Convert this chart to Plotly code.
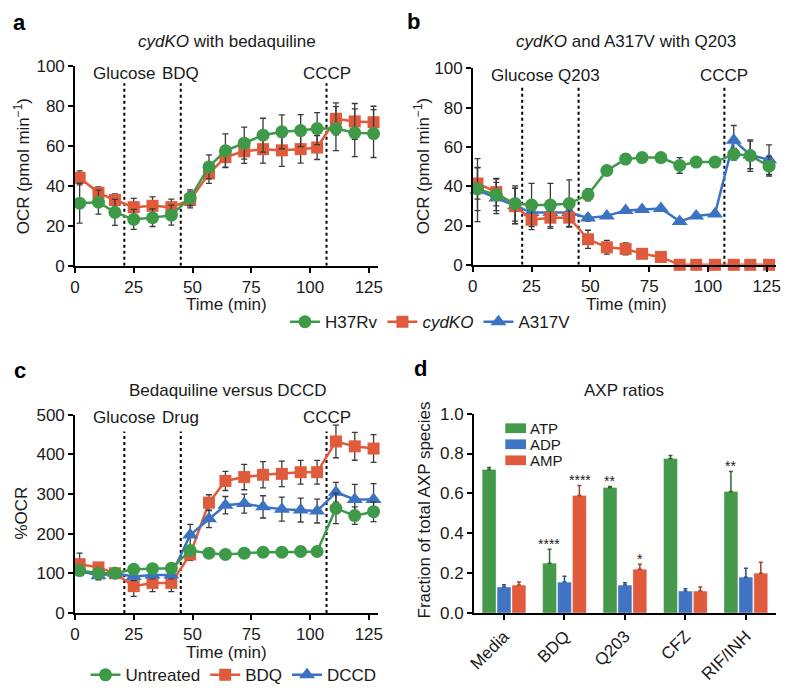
import plotly.graph_objects as go

# ---------------- data ----------------
# panel a: cydKO with bedaquiline
time_a = [2, 10, 17, 25, 33, 41, 49, 57, 64, 72, 80, 88, 96, 103, 111, 119, 127]
h37rv_a = [31.4, 31.9, 26.8, 23.3, 24.1, 25.4, 34.1, 49.6, 57.7, 61.5, 65.5, 67.2, 67.8, 68.8, 68.8, 66.7, 66.3]
h37rv_a_err = [10, 6, 6.5, 5, 4.4, 5, 4, 6, 8.5, 8, 8.5, 8.5, 8, 8, 11, 12, 12]
cydko_a = [44.1, 36.6, 33.0, 29.4, 30.1, 29.4, 33.0, 46.3, 54.5, 57.4, 58.5, 57.9, 58.5, 59.3, 73.7, 72.4, 72.0]
cydko_a_err = [3.5, 3, 3, 4.4, 4.5, 4, 4, 5, 5, 6, 7, 8, 7, 6, 8, 9, 8]
events_a = [21, 45, 107]
event_labels_a = ["Glucose", "BDQ", "CCCP"]

# panel b: cydKO and A317V with Q203
time_b = [2, 10, 18, 25, 33, 41, 49, 57, 65, 72, 80, 88, 95, 103, 111, 118, 126]
h37rv_b = [38.6, 35.6, 31.2, 30.4, 30.4, 31.2, 35.6, 48.0, 53.8, 54.6, 54.6, 50.6, 52.3, 52.3, 56.3, 55.6, 50.2]
h37rv_b_err = [11, 8, 9, 11, 11, 12, 3, 2, 2.5, 2.5, 2.5, 4, 1.5, 1.5, 3, 8, 5]
cydko_b = [41.4, 37.0, 29.9, 22.9, 24.0, 24.0, 13.0, 8.9, 8.1, 5.6, 4.0, 0, 0, 0, 0, 0, 0]
cydko_b_err = [8, 7, 9, 5, 5.5, 4.5, 4.6, 3.5, 3, 1, 1, 1.5, 0.5, 0.5, 0.5, 0.5, 0.5]
a317v_b = [38.0, 34.0, 30.0, 26.6, 26.6, 26.6, 23.8, 24.9, 27.6, 28.2, 28.7, 22.1, 24.9, 25.9, 63.4, 55.9, 53.5]
a317v_b_err = [16, 8, 9, 2, 2, 2, 1.5, 1, 1, 1, 1, 1, 1, 1, 7.5, 7, 7.5]
events_b = [21, 45, 107]
event_labels_b = ["Glucose", "Q203", "CCCP"]

# panel c: Bedaquiline versus DCCD
time_c = [2, 10, 17, 25, 33, 41, 49, 57, 64, 72, 80, 88, 96, 103, 111, 119, 127]
untreated_c = [106.9, 100.3, 100.3, 110.0, 111.7, 112.6, 157.4, 150.9, 147.6, 150.9, 153.3, 153.3, 155.0, 155.0, 263.5, 245.5, 255.3]
untreated_c_err = [8, 5, 5, 5, 5, 5, 5, 5, 5, 5, 5, 5, 5, 5, 38, 22, 25]
bdq_c = [123.0, 115.0, 100.3, 67.7, 75.9, 75.9, 147.6, 278.0, 332.8, 342.6, 348.3, 350.7, 354.8, 354.8, 432.3, 420.0, 414.4]
bdq_c_err = [28, 10, 5, 26, 22, 22, 15, 20, 24, 32, 33, 32, 30, 30, 41, 35, 35]
dccd_c = [107.0, 93.8, 100.0, 92.0, 96.0, 96.0, 196.6, 237.4, 271.6, 275.7, 267.5, 261.8, 259.4, 256.9, 304.2, 286.3, 286.3]
dccd_c_err = [10, 10, 8, 10, 10, 10, 27, 22, 22, 24, 28, 30, 30, 30, 25, 38, 40]
events_c = [21, 45, 107]
event_labels_c = ["Glucose", "Drug", "CCCP"]

# panel d: AXP ratios
conditions = ["Media", "BDQ", "Q203", "CFZ", "RIF/INH"]
species = ["ATP", "ADP", "AMP"]
atp = [0.72, 0.25, 0.63, 0.775, 0.61]
atp_err = [0.01, 0.07, 0.005, 0.015, 0.10]
adp = [0.13, 0.155, 0.14, 0.11, 0.18]
adp_err = [0.012, 0.03, 0.012, 0.012, 0.045]
amp = [0.14, 0.59, 0.22, 0.11, 0.20]
amp_err = [0.015, 0.05, 0.025, 0.02, 0.055]
atp_stars = ["", "****", "**", "", "**"]
amp_stars = ["", "****", "*", "", ""]

# ---------------- style ----------------
GREEN = "#3e9a48"
RED = "#e05a3c"
BLUE = "#3b72c2"
BAR_COLORS = ["#45994b", "#4175c4", "#e05a3e"]
BAR_ERR_COLORS = ["#2d6a33", "#2b528c", "#a3402b"]
FONT = "Liberation Sans, Arial, Helvetica, sans-serif"
W, H = 788, 695

fig = go.Figure()


def line_trace(x, y, err, color, symbol, size, name, xa, ya, legend, show, rank):
    return go.Scatter(
        x=x, y=y, mode="lines+markers", name=name,
        line=dict(color=color, width=2.5),
        marker=dict(color=color, symbol=symbol, size=size, line=dict(width=0)),
        error_y=dict(type="data", array=err, visible=True, color="#3a3a3a",
                     thickness=1.3, width=3),
        xaxis=xa, yaxis=ya, legend=legend, showlegend=show, legendrank=rank,
        cliponaxis=False,
    )


# panel a
fig.add_trace(line_trace(time_a, cydko_a, cydko_a_err, RED, "square", 12, "cydKO", "x", "y", "legend", False, 2))
fig.add_trace(line_trace(time_a, h37rv_a, h37rv_a_err, GREEN, "circle", 13, "H37Rv", "x", "y", "legend", False, 1))
# panel b
fig.add_trace(line_trace(time_b, a317v_b, a317v_b_err, BLUE, "triangle-up", 14, "A317V", "x2", "y2", "legend", True, 3))
fig.add_trace(line_trace(time_b, cydko_b, cydko_b_err, RED, "square", 12, "<i>cydKO</i>", "x2", "y2", "legend", True, 2))
fig.add_trace(line_trace(time_b, h37rv_b, h37rv_b_err, GREEN, "circle", 13, "H37Rv", "x2", "y2", "legend", True, 1))
# panel c
fig.add_trace(line_trace(time_c, bdq_c, bdq_c_err, RED, "square", 12, "BDQ", "x3", "y3", "legend2", True, 2))
fig.add_trace(line_trace(time_c, dccd_c, dccd_c_err, BLUE, "triangle-up", 14, "DCCD", "x3", "y3", "legend2", True, 3))
fig.add_trace(line_trace(time_c, untreated_c, untreated_c_err, GREEN, "circle", 13, "Untreated", "x3", "y3", "legend2", True, 1))

# panel d bars
for name, vals, errs, col, ecol in zip(species, [atp, adp, amp], [atp_err, adp_err, amp_err],
                                       BAR_COLORS, BAR_ERR_COLORS):
    fig.add_trace(go.Bar(
        x=conditions, y=vals, name=name,
        marker=dict(color=col, line=dict(width=0.6, color="rgba(255,255,255,0.6)")),
        error_y=dict(type="data", array=errs, arrayminus=[0] * len(errs), symmetric=False,
                     color=ecol, thickness=1.5, width=2),
        xaxis="x4", yaxis="y4", showlegend=False,
    ))


def px_x(p):
    return p / W


def px_y(p):
    return 1 - p / H


axis_common = dict(showline=True, linecolor="black", linewidth=1.5, ticks="outside",
                   ticklen=5, tickwidth=1.5, tickcolor="black", showgrid=False,
                   zeroline=False, tickfont=dict(size=17, color="#1a1a1a"), fixedrange=True)

time_ticks = [0, 25, 50, 75, 100, 125]

fig.update_layout(
    width=W, height=H, margin=dict(l=0, r=0, t=0, b=0),
    paper_bgcolor="white", plot_bgcolor="white",
    font=dict(family=FONT, size=17, color="#1a1a1a"),
    barmode="group", bargap=0.26, bargroupgap=0.07,
    xaxis=dict(domain=[px_x(69), px_x(377)], range=[0, 129], tickvals=time_ticks, anchor="y", **axis_common),
    yaxis=dict(domain=[px_y(264), px_y(59)], range=[0, 100], dtick=20, anchor="x", **axis_common),
    xaxis2=dict(domain=[px_x(473), px_x(781)], range=[0, 129], tickvals=time_ticks, anchor="y2", **axis_common),
    yaxis2=dict(domain=[px_y(263), px_y(61)], range=[0, 100], dtick=20, anchor="x2", **axis_common),
    xaxis3=dict(domain=[px_x(69), px_x(377)], range=[0, 129], tickvals=time_ticks, anchor="y3", **axis_common),
    yaxis3=dict(domain=[px_y(621), px_y(417)], range=[0, 500], dtick=100, anchor="x3", **axis_common),
    xaxis4=dict(domain=[px_x(474), px_x(781)], range=[-0.5, 4.5], tickangle=-45, anchor="y4", **axis_common),
    yaxis4=dict(domain=[px_y(621), px_y(416)], range=[0, 1.0], dtick=0.2, tickformat=".1f", anchor="x4", **axis_common),
    legend=dict(orientation="h", x=px_x(430), y=px_y(322), xanchor="center", yanchor="middle",
                font=dict(size=17), bgcolor="rgba(0,0,0,0)", itemclick=False, tracegroupgap=0),
    legend2=dict(orientation="h", x=px_x(230), y=px_y(685), xanchor="center", yanchor="middle",
                 font=dict(size=17), bgcolor="rgba(0,0,0,0)", itemclick=False),
)

annotations = []
shapes = []

# event lines and labels
for evs, labels, xa, ya, ymax, ly in [
    (events_a, event_labels_a, "x", "y", 100, 0.965),
    (events_b, event_labels_b, "x2", "y2", 100, 0.965),
    (events_c, event_labels_c, "x3", "y3", 500, 0.985),
]:
    for ev, lab in zip(evs, labels):
        shapes.append(dict(type="line", xref=xa, yref=ya, x0=ev, x1=ev, y0=0, y1=ymax * 0.915,
                           line=dict(color="black", width=2, dash="dot"), layer="below"))
        annotations.append(dict(x=ev, y=ymax * ly, xref=xa, yref=ya, text=lab, showarrow=False,
                                xanchor="center", yanchor="middle", font=dict(size=17)))

# titles
for txt, cx, cy in [
    ("<i>cydKO</i> with bedaquiline", 223, 33),
    ("<i>cydKO</i> and A317V with Q203", 629, 33),
    ("Bedaquiline versus DCCD", 224, 392),
    ("AXP ratios", 627, 392),
]:
    annotations.append(dict(x=px_x(cx), y=px_y(cy), xref="paper", yref="paper", text=txt,
                            showarrow=False, xanchor="center", yanchor="middle", font=dict(size=17)))

# panel letters
for txt, cx, cy in [("a", 13, 14), ("b", 413, 13), ("c", 13, 372), ("d", 420, 370)]:
    annotations.append(dict(x=px_x(cx), y=px_y(cy), xref="paper", yref="paper", text="<b>%s</b>" % txt,
                            showarrow=False, xanchor="center", yanchor="middle",
                            font=dict(size=22, color="black")))

# axis titles
for txt, cx, cy, ang in [
    ("OCR (pmol min<sup>−1</sup>)", 15, 162, -90),
    ("OCR (pmol min<sup>−1</sup>)", 421, 162, -90),
    ("%OCR", 15, 518, -90),
    ("Fraction of total AXP species", 424, 515, -90),
    ("Time (min)", 223, 304, 0),
    ("Time (min)", 629, 304, 0),
    ("Time (min)", 223, 662, 0),
]:
    annotations.append(dict(x=px_x(cx), y=px_y(cy), xref="paper", yref="paper", text=txt,
                            showarrow=False, xanchor="center", yanchor="middle", textangle=ang,
                            font=dict(size=17)))

# bar legend (compact, like the reference)
for i, (name, col) in enumerate(zip(species, BAR_COLORS)):
    cy = 431 + i * 16.5
    shapes.append(dict(type="rect", xref="paper", yref="paper",
                       x0=px_x(506), x1=px_x(527), y0=px_y(cy + 5), y1=px_y(cy - 5),
                       fillcolor=col, line=dict(width=0)))
    annotations.append(dict(x=px_x(529), y=px_y(cy), xref="paper", yref="paper", text=name,
                            showarrow=False, xanchor="left", yanchor="middle",
                            font=dict(size=15)))

# significance stars
for stars, vals, errs, shift in [(atp_stars, atp, atp_err, -15.3), (amp_stars, amp, amp_err, 15.3)]:
    for cat, s, v, e in zip(conditions, stars, vals, errs):
        if s:
            annotations.append(dict(x=cat, y=v + e, xref="x4", yref="y4", text=s, showarrow=False,
                                    xanchor="center", yanchor="bottom", xshift=shift, yshift=-5,
                                    font=dict(size=14, color="#1a1a1a")))

fig.update_layout(annotations=annotations, shapes=shapes)

fig.write_html("out.html", config={"displayModeBar": False},
               post_script="document.body.style.margin='0px';")
